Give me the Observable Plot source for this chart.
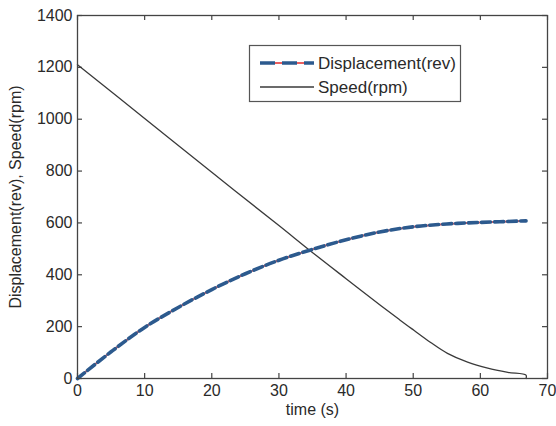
<!DOCTYPE html>
<html>
<head>
<meta charset="utf-8">
<script src="https://cdn.jsdelivr.net/npm/d3@7"></script>
<script src="https://cdn.jsdelivr.net/npm/@observablehq/plot@0.6"></script>
<style>
  html, body { margin: 0; padding: 0; background: #fff; }
  #chart { position: relative; width: 556px; height: 426px; }
</style>
</head>
<body>
<div id="chart"></div>
<script>
// ---- data ----
const dispTime  = [0, 5, 10, 15, 20, 25, 30, 35, 40, 45, 50, 55, 60, 66.8];
const dispValue = [0, 103, 197, 274, 343, 404, 456, 498, 535, 565, 585, 596, 602, 608];

const speedTime  = [0, 10, 20, 30, 34.7, 40, 45.2, 48, 50.1, 52.6, 55.1, 58.1, 61.1, 64.1, 66.8, 66.8];
const speedValue = [1210, 1003, 795, 590, 492, 385, 281, 226, 186, 139, 97, 63, 40, 24, 13, 0];

const xTicks = [0, 10, 20, 30, 40, 50, 60, 70];
const yTicks = [0, 200, 400, 600, 800, 1000, 1200, 1400];

const seriesNames = ["Displacement(rev)", "Speed(rpm)"];
const xLabel = "time (s)";
const yLabel = "Displacement(rev), Speed(rpm)";

// ---- tables ----
const disp = dispTime.map((t, i) => ({t, v: dispValue[i]}));
const speed = speedTime.map((t, i) => ({t, v: speedValue[i]}));

const W = 556, H = 426, mL = 77, mR = 9, mT = 15, mB = 48;
const plotW = W - mL - mR, plotH = H - mT - mB;
const TICK = 5;
const font = "'Liberation Sans', Arial, sans-serif";
const fmt = d3.format("d");

const chart = Plot.plot({
  width: W, height: H,
  marginLeft: mL, marginRight: mR, marginTop: mT, marginBottom: mB,
  style: {fontFamily: font, fontSize: "16px", color: "#2a2a2a", background: "#fff"},
  x: {domain: [0, 70]},
  y: {domain: [0, 1400]},
  marks: [
    Plot.axisX(xTicks, {tickSize: 0, tickPadding: 6, tickFormat: fmt, label: xLabel, labelAnchor: "center", labelOffset: 36, labelArrow: "none", fontSize: 16}),
    Plot.axisY(yTicks, {tickSize: 0, tickPadding: 5, tickFormat: fmt, label: yLabel, labelAnchor: "center", labelOffset: 68, labelArrow: "none", fontSize: 16}),
    // inward ticks on all four sides
    Plot.tickX(xTicks, {x: d => d, insetTop: plotH - TICK, stroke: "#444", strokeWidth: 1.2}),
    Plot.tickX(xTicks, {x: d => d, insetBottom: plotH - TICK, stroke: "#444", strokeWidth: 1.2}),
    Plot.tickY(yTicks, {y: d => d, insetRight: plotW - TICK, stroke: "#444", strokeWidth: 1.2}),
    Plot.tickY(yTicks, {y: d => d, insetLeft: plotW - TICK, stroke: "#444", strokeWidth: 1.2}),
    // series
    Plot.line(speed, {x: "t", y: "v", stroke: "#3a3a3a", strokeWidth: 1.3, curve: "catmull-rom"}),
    Plot.line(disp, {x: "t", y: "v", stroke: "#ea5f5f", strokeWidth: 2, curve: "catmull-rom"}),
    Plot.line(disp, {x: "t", y: "v", stroke: "#2c5a8e", strokeWidth: 3.6, strokeDasharray: "9,4", curve: "catmull-rom"}),
    Plot.frame({stroke: "#444", strokeWidth: 1.3})
  ]
});

document.getElementById("chart").appendChild(chart);

// ---- legend (inside the axes, pixel positioned) ----
const svg = d3.select(chart);
const lg = svg.append("g").attr("class", "legend").attr("text-anchor", "start");
lg.append("rect").attr("x", 249.5).attr("y", 45.5).attr("width", 211).attr("height", 56)
  .attr("fill", "#fff").attr("stroke", "#555").attr("stroke-width", 1.2);
const rows = [63, 87];
// Displacement sample
lg.append("line").attr("x1", 260).attr("x2", 314).attr("y1", rows[0]).attr("y2", rows[0])
  .attr("stroke", "#ea5f5f").attr("stroke-width", 2);
lg.append("line").attr("x1", 260).attr("x2", 314).attr("y1", rows[0]).attr("y2", rows[0])
  .attr("stroke", "#2c5a8e").attr("stroke-width", 3.6).attr("stroke-dasharray", "15,7");
// Speed sample
lg.append("line").attr("x1", 260).attr("x2", 314).attr("y1", rows[1]).attr("y2", rows[1])
  .attr("stroke", "#3a3a3a").attr("stroke-width", 1.3);
seriesNames.forEach((name, i) => {
  lg.append("text").attr("x", 318).attr("y", rows[i]).attr("dy", "0.35em")
    .attr("text-anchor", "start")
    .attr("font-family", font).attr("font-size", 17).attr("fill", "#2a2a2a").text(name);
});
</script>
</body>
</html>
